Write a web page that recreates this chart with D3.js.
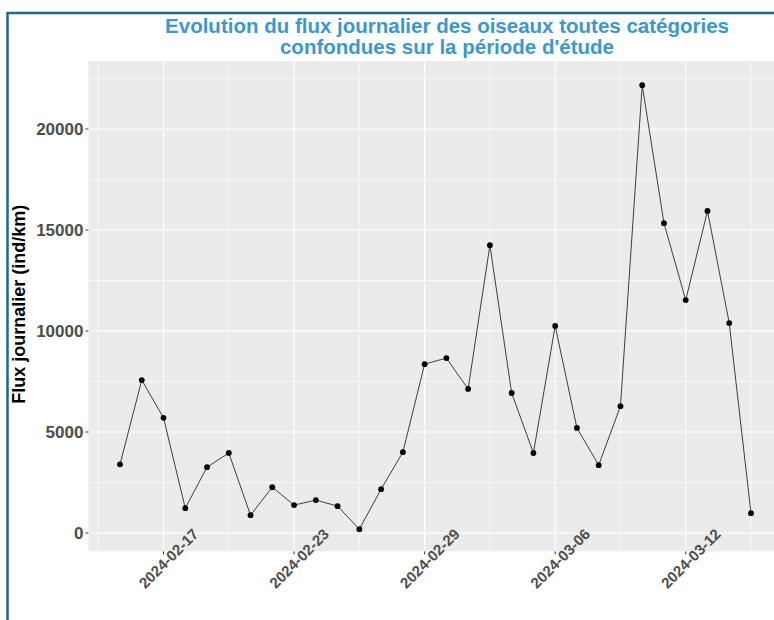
<!DOCTYPE html>
<html><head><meta charset="utf-8">
<script src="https://cdn.jsdelivr.net/npm/d3@7"></script>
<style>body{margin:0;background:#fff;} svg{display:block;font-family:"Liberation Sans",Arial,sans-serif;}</style>
</head><body>
<svg id="chart" width="774" height="620"></svg>
<script>
const dates = ["2024-02-15","2024-02-16","2024-02-17","2024-02-18","2024-02-19","2024-02-20","2024-02-21","2024-02-22","2024-02-23","2024-02-24","2024-02-25","2024-02-26","2024-02-27","2024-02-28","2024-02-29","2024-03-01","2024-03-02","2024-03-03","2024-03-04","2024-03-05","2024-03-06","2024-03-07","2024-03-08","2024-03-09","2024-03-10","2024-03-11","2024-03-12","2024-03-13","2024-03-14","2024-03-15"];
const flux = [3400,7570,5700,1230,3260,3960,880,2270,1380,1630,1330,190,2170,4000,8360,8660,7130,14250,6930,3960,10250,5200,3360,6280,22170,15340,11530,15940,10390,980];
const xTickLabels = ["2024-02-17","2024-02-23","2024-02-29","2024-03-06","2024-03-12"];
const xMinorDates = ["2024-02-14","2024-02-20","2024-02-26","2024-03-03","2024-03-09","2024-03-15"];
const yTicks = [0,5000,10000,15000,20000];
const yMinor = [2500,7500,12500,17500,22500];
const titleLines = ["Evolution du flux journalier des oiseaux toutes catégories","confondues sur la période d'étude"];
const yTitle = "Flux journalier (ind/km)";

const parse = d3.utcParse("%Y-%m-%d");
const data = dates.map((d,i)=>({date:parse(d), v:flux[i]}));
const svg = d3.select("#chart");
const W = 774, H = 620;

const x = d3.scaleUtc().domain([parse("2024-02-15"), parse("2024-03-15")]).range([120, 751]);
const y = d3.scaleLinear().domain([0, 20000]).range([533, 129]);

const xe = 0.05*(parse("2024-03-15")-parse("2024-02-15"));
const px0 = x(new Date(+parse("2024-02-15")-xe)), px1 = x(new Date(+parse("2024-03-15")+xe));
const [vmin, vmax] = d3.extent(flux);
const ye = 0.05*(vmax-vmin);
const py0 = y(vmax+ye)-2, py1 = y(vmin-ye);

// frame
svg.append("path").attr("d", `M7.5,${H} L7.5,13 L${W},13`).attr("fill","none").attr("stroke","#1c6892").attr("stroke-width",2.5);

// panel
svg.append("rect").attr("x",px0).attr("y",py0).attr("width",px1-px0).attr("height",py1-py0).attr("fill","#EBEBEB");
const g = svg.append("g");
g.selectAll(".ymin").data(yMinor.filter(v=>y(v)>py0&&y(v)<py1)).join("line")
  .attr("x1",px0).attr("x2",px1).attr("y1",d=>y(d)).attr("y2",d=>y(d)).attr("stroke","#fff").attr("stroke-width",0.6);
g.selectAll(".xmin").data(xMinorDates.map(parse)).join("line")
  .attr("x1",d=>x(d)).attr("x2",d=>x(d)).attr("y1",py0).attr("y2",py1).attr("stroke","#fff").attr("stroke-width",0.6);
g.selectAll(".ymaj").data(yTicks).join("line")
  .attr("x1",px0).attr("x2",px1).attr("y1",d=>y(d)).attr("y2",d=>y(d)).attr("stroke","#fff").attr("stroke-width",1.2);
g.selectAll(".xmaj").data(xTickLabels.map(parse)).join("line")
  .attr("x1",d=>x(d)).attr("x2",d=>x(d)).attr("y1",py0).attr("y2",py1).attr("stroke","#fff").attr("stroke-width",1.2);

// line and points
const line = d3.line().x(d=>x(d.date)).y(d=>y(d.v));
svg.append("path").datum(data).attr("d",line).attr("fill","none").attr("stroke","#2a2a2a").attr("stroke-width",0.9);
svg.selectAll(".pt").data(data).join("circle").attr("cx",d=>x(d.date)).attr("cy",d=>y(d.v)).attr("r",2.9).attr("fill","#000");

// y axis
svg.selectAll(".ytk").data(yTicks).join("line").attr("x1",px0-3).attr("x2",px0).attr("y1",d=>y(d)).attr("y2",d=>y(d)).attr("stroke","#333").attr("stroke-width",1);
svg.selectAll(".ylab").data(yTicks).join("text").attr("x",px0-5).attr("y",d=>y(d)).attr("dy","0.36em")
  .attr("text-anchor","end").attr("font-size",17).attr("font-weight","bold").attr("fill","#4D4D4D").text(d=>d);
// x axis
svg.selectAll(".xtk").data(xTickLabels.map(parse)).join("line").attr("x1",d=>x(d)).attr("x2",d=>x(d)).attr("y1",py1).attr("y2",py1+3).attr("stroke","#333").attr("stroke-width",1);
svg.selectAll(".xlab").data(xTickLabels).join("text")
  .attr("transform",d=>`translate(${x(parse(d))+5},${py1+7}) rotate(-45)`)
  .attr("text-anchor","middle").attr("dy","0.36em").attr("font-size",15).attr("font-weight","bold").attr("fill","#4D4D4D").text(d=>d);

// y title
svg.append("text").attr("transform",`translate(25,${(py0+py1)/2-2}) rotate(-90)`).attr("text-anchor","middle")
  .attr("font-size",18).attr("font-weight","bold").attr("fill","#000").text(yTitle);

// title
svg.selectAll(".title").data(titleLines).join("text").attr("x",447).attr("y",(d,i)=>33+i*21)
  .attr("text-anchor","middle").attr("font-size",20.5).attr("font-weight","bold").attr("fill","#3a98cf").text(d=>d);
</script>
</body></html>
